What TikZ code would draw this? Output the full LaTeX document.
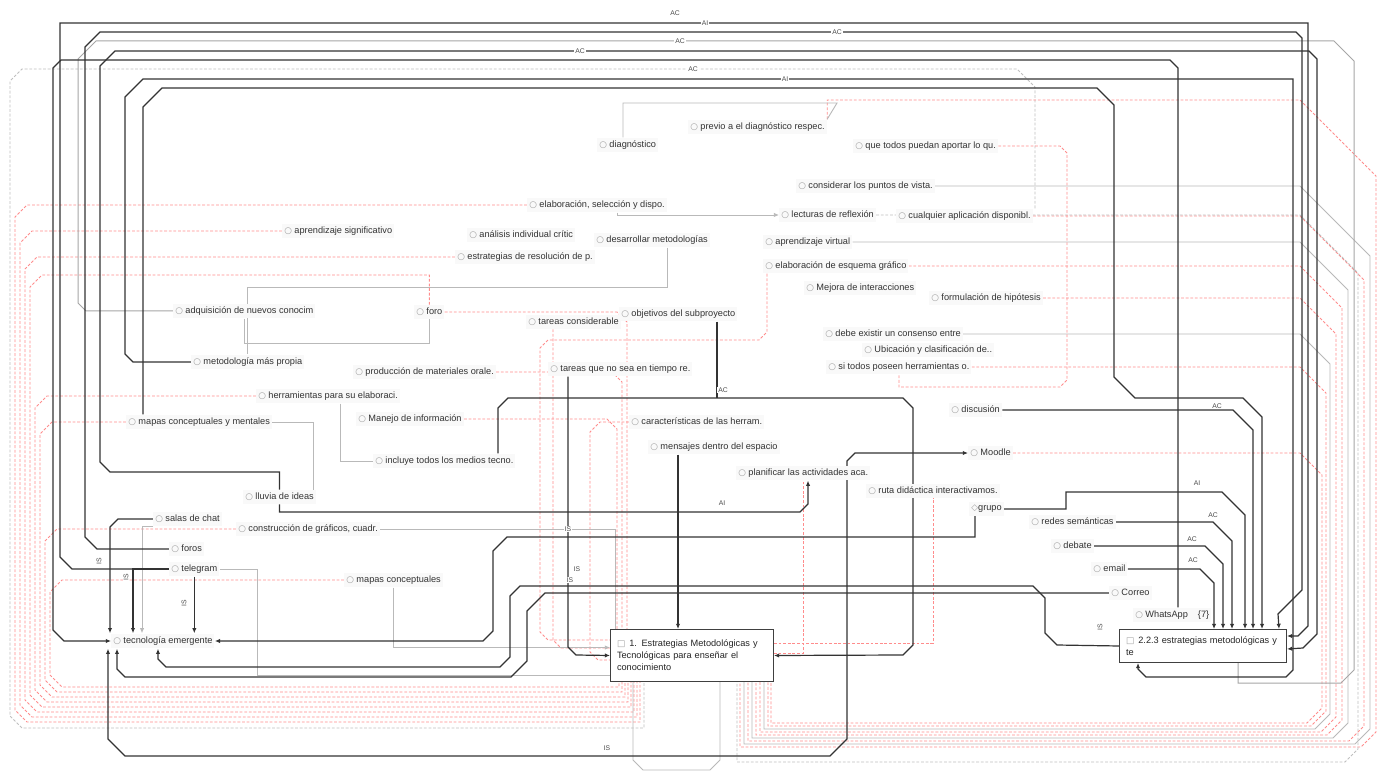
\documentclass[tikz,border=0pt]{standalone}
\usepackage{fontspec}
\setmainfont{Liberation Sans}
\newfontfamily\dvfont{DejaVu Sans}
\usetikzlibrary{arrows.meta,calc}
\pgfdeclarelayer{back}
\pgfdeclarelayer{bg}
\pgfsetlayers{back,bg,main}
\newcommand\codeico{{\color{gray!75}\dvfont\fontsize{4.4}{5}\selectfont ○}\hspace{1.2pt}}
\newcommand\boxico{{\color{gray!75}\dvfont\fontsize{4.4}{5}\selectfont □}\hspace{2pt}}
\newcommand\grpico{{\color{gray!75}\dvfont\fontsize{4.4}{5}\selectfont ◇}}
\begin{document}
\begin{tikzpicture}[x=0.5pt,y=-0.5pt,
  cnode/.style={anchor=west, fill=gray!5, inner xsep=1pt, inner ysep=1.5pt, font=\fontsize{4.6}{5}\selectfont, text=black!80},
  bx/.style={draw=black!75, line width=0.5pt, fill=white, anchor=north west, align=left, inner xsep=3pt, inner ysep=3pt, font=\fontsize{4.6}{6}\selectfont, text=black!85},
  blk/.style={draw=black!80, line width=0.6pt},
  gry/.style={draw=gray!55, line width=0.45pt},
  rd/.style={draw=red!45, line width=0.4pt, dash pattern=on 1.4pt off 0.9pt},
  gd/.style={draw=gray!50, line width=0.4pt, dash pattern=on 1.4pt off 0.9pt},
  arr/.style={-{Latex[length=2.6pt,width=2.2pt]}},
  lab/.style={font=\fontsize{3.4}{4}\selectfont, fill=white, inner sep=0.5pt, text=black!70}]
\begin{pgfonlayer}{back}
\fill[white] (0,0) rectangle (1379,774);
\end{pgfonlayer}
\useasboundingbox (0,0) rectangle (1379,774);

% ---------- nodes ----------
\node[cnode] (diag) at (597,145) {\codeico diagnóstico};
\node[cnode] (previo) at (688,127) {\codeico previo a el diagnóstico respec.};
\node[cnode] (quet) at (853,146) {\codeico que todos puedan aportar lo qu.};
\node[cnode] (consid) at (796,186) {\codeico considerar los puntos de vista.};
\node[cnode] (elab) at (527,205) {\codeico elaboración, selección y dispo.};
\node[cnode] (lect) at (779,215) {\codeico lecturas de reflexión};
\node[cnode] (cualq) at (896,216) {\codeico cualquier aplicación disponibl.};
\node[cnode] (aprsig) at (282,231) {\codeico aprendizaje significativo};
\node[cnode] (anal) at (467,235) {\codeico análisis individual crític};
\node[cnode] (desarr) at (594,240) {\codeico desarrollar metodologías};
\node[cnode] (aprvirt) at (763,242) {\codeico aprendizaje virtual};
\node[cnode] (estrat) at (455,257) {\codeico estrategias de resolución de p.};
\node[cnode] (esquema) at (763,266) {\codeico elaboración de esquema gráfico};
\node[cnode] (mejora) at (804,288) {\codeico Mejora de interacciones};
\node[cnode] (formul) at (929,298) {\codeico formulación de hipótesis};
\node[cnode] (adquis) at (173,311) {\codeico adquisición de nuevos conocim};
\node[cnode] (foro) at (414,312) {\codeico foro};
\node[cnode] (tcons) at (526,322) {\codeico tareas considerable};
\node[cnode] (objet) at (619,314) {\codeico objetivos del subproyecto};
\node[cnode] (debe) at (823,334) {\codeico debe existir un consenso entre};
\node[cnode] (ubic) at (862,350) {\codeico Ubicación y clasificación de..};
\node[cnode] (sitod) at (826,367) {\codeico si todos poseen herramientas o.};
\node[cnode] (metod) at (191,362) {\codeico metodología más propia};
\node[cnode] (produc) at (353,372) {\codeico producción de materiales orale.};
\node[cnode] (tareasno) at (548,369) {\codeico tareas que no sea en tiempo re.};
\node[cnode] (herram) at (256,396) {\codeico herramientas para su elaboraci.};
\node[cnode] (mapascm) at (126,422) {\codeico mapas conceptuales y mentales};
\node[cnode] (manejo) at (356,419) {\codeico Manejo de información};
\node[cnode] (caract) at (629,422) {\codeico características de las herram.};
\node[cnode] (discus) at (949,410) {\codeico discusión};
\node[cnode] (incluye) at (373,461) {\codeico incluye todos los medios tecno.};
\node[cnode] (mensaj) at (648,447) {\codeico mensajes dentro del espacio};
\node[cnode] (moodle) at (968,453) {\codeico Moodle};
\node[cnode] (planif) at (736,473) {\codeico planificar las actividades aca.};
\node[cnode] (ruta) at (866,491) {\codeico ruta didáctica interactivamos.};
\node[cnode] (lluvia) at (243,497) {\codeico lluvia de ideas};
\node[cnode] (grupo) at (969,509) {\grpico grupo};
\node[cnode] (salas) at (153,519) {\codeico salas de chat};
\node[cnode] (constr) at (236,529) {\codeico construcción de gráficos, cuadr.};
\node[cnode] (redes) at (1029,522) {\codeico redes semánticas};
\node[cnode] (foros) at (169,549) {\codeico foros};
\node[cnode] (debate) at (1051,546) {\codeico debate};
\node[cnode] (tel) at (169,569) {\codeico telegram};
\node[cnode] (mapasc) at (344,580) {\codeico mapas conceptuales};
\node[cnode] (email) at (1091,569) {\codeico email};
\node[cnode] (correo) at (1109,593) {\codeico Correo};
\node[cnode] (whats) at (1133,615) {\codeico WhatsApp\hspace{5pt}\{7\}};
\node[cnode] (tec) at (111,641) {\codeico tecnología emergente};
\node[bx, minimum width=81.5pt, minimum height=26pt, text width=75pt] (box1) at (610,629)
  {\boxico 1. Estrategias Metodológicas y\\Tecnológicas para enseñar el\\conocimiento};
\node[bx, minimum width=83.5pt, minimum height=16.5pt, text width=77pt] (box2) at (1119,629)
  {\boxico 2.2.3 estrategias metodológicas y\\te};

\begin{pgfonlayer}{bg}
% ---------- left red / grey dashed bundle into box1 ----------
\draw[gd] (cualq.north -| 1035,0) -- (1035,87) -- (1017,69) -- (22,69) -- (10,81) -- (10,716) -- (22,728) -- (644,728) -- (644,681);
\foreach \s/\y/\xl/\yb/\xe in {elab.west/205/15/722/640, aprsig.west/231/20/717/637, estrat.west/257/25/712/634, herram.west/396/35/702/628, mapascm.west/422/40/697/625, constr.west/529/45/692/622, mapasc.west/580/50/687/619}
  \draw[rd] (\s) -- (\xl+12,\y) -- (\xl,\y+12) -- (\xl,\yb-12) -- (\xl+12,\yb) -- (\xe,\yb) -- (\xe,681);
\draw[rd] (foro.north) |- (42,275) -- (30,287) -- (30,695) -- (42,707) -- (631,707) -- (631,681);

% ---------- right bundle into box1 ----------
\draw[rd] (previo.north east) |- (1300,100) -- (1376,176) -- (1376,732) -- (1361,747) -- (740,747) -- (740,681);
\foreach \s/\y/\xr/\yb/\xe in {cualq.east/216/1364/741/748, esquema.east/266/1342/735/756, formul.east/298/1336/732/760, sitod.east/367/1326/726/768, moodle.east/453/1322/723/771}
  \draw[rd] (\s) -- (1300,\y) -- (\xr,\y+\xr-1300) -- (\xr,\yb-15) -- (\xr-15,\yb) -- (\xe,\yb) -- (\xe,681);
\foreach \s/\y/\xr/\yb/\xe in {consid.east/186/1370/744/744, aprvirt.east/242/1348/738/752, debe.east/334/1330/729/764}
  \draw[gry] (\s) -- (1300,\y) -- (\xr,\y+\xr-1300) -- (\xr,\yb-15) -- (\xr-15,\yb) -- (\xe,\yb) -- (\xe,681);
\draw[gd] (lect.east) -- (1300,215) -- (1358,273) -- (1358,749) -- (1345,762) -- (737,762) -- (737,681);

% ---------- middle red ----------
\draw[rd] (quet.east) -- (1060,146) -- (1067,153) -- (1067,380) -- (1060,387) -| (sitod.south);
\draw[rd] ($(esquema.south west)+(4,0)$) -- (767,332) -- (759,340) -- (548,340) -- (540,348) -- (540,632) -- (548,640) -- ($(box1.north west)+(0,11)$);
\draw[rd] (foro.east) -- (617,312) -- (627,322) -- ($(box1.north west)+(17,0)$);
\draw[rd] (produc.east) -- (612,372) -- (622,382) -- ($(box1.north west)+(12,0)$);
\draw[rd] (manejo.east) -- (607,419) -- (617,429) -- ($(box1.north west)+(7,0)$);
\draw[rd] (tcons.south -| 553,0) -- (553,640) -- (561,648) -- ($(box1.north west)+(0,19)$);
\draw[rd] (caract.west) -- (600,422) -- (590,432) -- (590,652) -- (598,660) -- ($(box1.north west)+(0,31)$);
\draw[rd] ($(box1.north east)+(0,14)$) -| (ruta.south);
\draw[rd] ($(box1.north east)+(0,24)$) -| (planif.south);

% ---------- grey solid ----------
\draw[gry] (diag.north -| 623,0) -- (623,103) -- (837,103) -- (previo.north east);
\draw[gry,arr] ($(elab.south)+(20,0)$) |- (lect.west);
\draw[gry] (mapascm.east) -| ($(lluvia.north east)+(-3,0)$);
\draw[gry] ($(herram.south)+(12,0)$) |- (incluye.west);
\draw[gry] (adquis.south) |- ($(foro.south)+(0,24)$) -- (foro.south);
\draw[gry] (constr.east) -| ($(box1.north west)+(5,0)$);
\draw[gry] (tel.east) -- (257,569) |- ($(box1.west)+(0,20)$);
\draw[gry,arr] (mapasc.south) |- ($(box1.west)+(0,-8)$);
\draw[gry] ($(box1.south west)+(23,0)$) -- (633,760) -- (643,770) -- (710,770) -- (720,760) -- ($(box1.south west)+(110,0)$);
\draw[gry] (desarr.south -| 667,0) -- (667,287) -| (metod.north);
\draw[draw=gray!70, line width=0.5pt] (adquis.west) -- (86,311) -- (78,303) -- (78,59) -- (96,41) -- (1334,41) -- (1354,61) -- (1354,670) -- (1341,683) -- (1238,683) -- (box2.south -| 1238,0);
\draw[gry,arr] (salas.south west) -| ($(tec.north west)+(31,0)$);

% ---------- black ----------
\draw[blk,arr] (tel.west) -- (72,569) -- (60,557) -- (60,23) -- (1308,23) -- (1308,626) -- (1298,636) -- ($(box2.north east)+(0,7)$);
\draw[blk,arr] (foros.west) -- (97,549) -- (85,537) -- (85,47) -- (100,32) -- (1296,32) -- (1302,38) -- (1302,590) -- (1278,614) -- ($(box2.north east)+(-8,0)$);
\draw[blk,arr] (lluvia.north) |- (110,472) -- (100,462) -- (100,66) -- (115,51) -- (1309,51) -- (1317,59) -- (1317,634) -- (1303,648) -- ($(box2.east)+(0,3)$);
\draw[blk,arr] (whats.north -| 1178,0) -- (1178,68) -- (1170,60) -- (61,60) -- (53,68) -- (53,630) -- (64,641) -- (tec.west);
\draw[blk,arr] (metod.west) -- (133,362) -- (125,354) -- (125,97) -- (143,79) -- (1293,79) -- (1293,670) -- (1286,677) -- (1146,677) -- (1138,669) -- (box2.south -| 1138,0);
\draw[blk,arr] (mapascm.north -| 143,0) -- (143,107) -- (162,88) -- (1097,88) -- (1114,105) -- (1114,377) -- (1135,398) -- (1243,398) -- (1262,417) -- ($(box2.north west)+(143,0)$);
\draw[blk,arr] (discus.east) -- (1233,410) -- (1253,430) -- ($(box2.north west)+(134,0)$);
\draw[blk,arr] (grupo.east) -- (1066,509) -- (1066,492) -- (1222,492) -- (1245,515) -- ($(box2.north west)+(126,0)$);
\draw[blk,arr] (redes.east) -- (1213,522) -- (1232,541) -- ($(box2.north west)+(113,0)$);
\draw[blk,arr] (debate.east) -- (1205,546) -- (1223,564) -- ($(box2.north west)+(104,0)$);
\draw[blk,arr] (email.east) -- (1200,569) -- (1214,583) -- ($(box2.north west)+(95,0)$);
\draw[blk,arr] (grupo.south -| 975,0) -- (975,537) -- (507,537) -- (493,551) -- (493,631) -- (483,641) -- (tec.east);
\draw[blk,arr] (box2.west) -- (1057,645) -- (1045,633) -- (1045,598) -- (1033,586) -- (520,586) -- (510,596) -- (510,657) -- (500,667) -- (166,667) -- (158,659) -- ($(tec.south west)+(47,0)$);
\draw[blk,arr] (correo.west) -- (545,593) -- (527,611) -- (527,661) -- (511,677) -- (125,677) -- (117,669) -- ($(tec.south west)+(6,0)$);
\draw[blk,{Latex[length=2.6pt,width=2.2pt]}-{Latex[length=2.6pt,width=2.2pt]}] ($(tec.south west)+(-3,0)$) -- (108,739) -- (125,756) -- (830,756) -- (847,739) -- (847,461) -- (855,453) -- (moodle.west);
\draw[blk,arr] (lluvia.south) |- (800,512) -- (808,504) -- (planif.south -| 808,0);
\draw[blk,arr] (salas.west) -- (118,519) -- (110,527) -- ($(tec.north west)+(-1,0)$);
\draw[blk,arr] (tel.west) -| ($(tec.north west)+(22,0)$);
\draw[blk,arr] (tel.south) -- (tel.south |- tec.north);
\draw[blk,arr] (incluye.north -| 498,0) -- (498,408) -- (508,398) -- (903,398) -- (913,408) -- (913,645) -- (903,655) -- (box1.east);
\draw[blk] (objet.south -| 717,0) -- (717,398);
\draw[blk,arr] (tareasno.south -| 568,0) -- (568,647) -- (576,655) -- (box1.west);
\draw[blk,arr] (mensaj.south -| 678,0) -- ($(box1.north west)+(68,0)$);
\end{pgfonlayer}

% ---------- link labels ----------
\node[lab] (l1) at (675,13) {AC};
\node[lab] (l2) at (705,23) {AI};
\node[lab] (l3) at (837,32) {AC};
\node[lab] (l4) at (680,41) {AC};
\node[lab] (l5) at (580,51) {AC};
\node[lab] (l6) at (693,69) {AC};
\node[lab] (l7) at (785,79) {AI};
\node[lab] (l8) at (723,390) {AC};
\node[lab] (l9) at (722,503) {AI};
\node[lab] (l10) at (1217,406) {AC};
\node[lab] (l11) at (1197,483) {AI};
\node[lab] (l12) at (1213,515) {AC};
\node[lab] (l13) at (1192,539) {AC};
\node[lab] (l14) at (1193,560) {AC};
\node[lab,rotate=90] (l15) at (99,561) {IS};
\node[lab,rotate=90] (l16) at (126,577) {IS};
\node[lab,rotate=90] (l17) at (184,603) {IS};
\node[lab] (l18) at (568,529) {IS};
\node[lab] (l19) at (577,569) {IS};
\node[lab] (l20) at (570,580) {IS};
\node[lab] (l21) at (607,748) {IS};
\node[lab,rotate=90] (l22) at (1100,627) {IS};
\end{tikzpicture}
\end{document}
